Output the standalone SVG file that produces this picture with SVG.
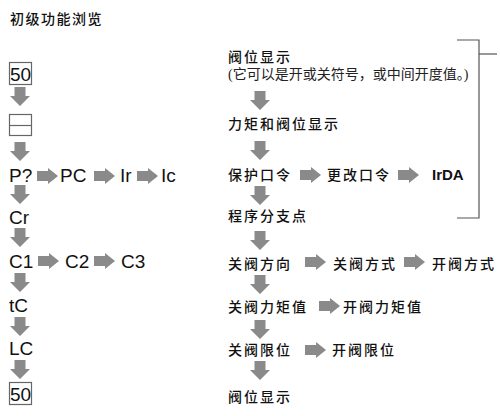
<svg xmlns="http://www.w3.org/2000/svg" width="500" height="416" viewBox="0 0 500 416">
<style>
.lat{font-family:"Liberation Sans",Arial,sans-serif;font-size:19px;fill:#111}
.cjk{font-family:"Noto Sans CJK SC","Noto Sans",sans-serif;font-size:14px;font-weight:500;letter-spacing:2px;fill:#111}
.ser{font-family:"Liberation Serif","Noto Sans CJK SC",serif;font-size:14px;fill:#222}
.bold{font-family:"Liberation Sans",Arial,sans-serif;font-size:15px;font-weight:bold;fill:#111}
.box{fill:#fff;stroke:#666;stroke-width:1.2}
.arr{fill:#8a8a8a}
.br{fill:none;stroke:#555;stroke-width:1.2}
</style>
<defs>
<path id="dn" class="arr" d="M-5.5,0 H5.5 V9 H10 L0,19 L-10,9 H-5.5 Z"/>
<path id="rt" class="arr" d="M0,-5 H11 V-8 L21,0 L11,8 V5 H0 Z"/>
</defs>
<g id="title"><text class="cjk" x="10" y="24" style="letter-spacing:1.5px">初级功能浏览</text></g>
<g id="bracket"><polyline class="br" points="457,40 479,40 479,218 457,218"/><line class="br" x1="479" y1="54" x2="497" y2="54"/></g>
<g id="left">
<g id="n50a"><rect class="box" x="9.5" y="62.5" width="22" height="22"/><text class="lat" x="10" y="81">50</text></g>
<g id="nblank"><rect class="box" x="9.5" y="114.5" width="22" height="21"/><line x1="9.5" y1="125.5" x2="31.5" y2="125.5" stroke="#666" stroke-width="1.2"/></g>
<g id="nP"><text class="lat" x="9" y="182">P?</text></g>
<g id="nPC"><text class="lat" x="60" y="182">PC</text></g>
<g id="nIr"><text class="lat" x="120" y="182">Ir</text></g>
<g id="nIc"><text class="lat" x="161" y="182">Ic</text></g>
<g id="nCr"><text class="lat" x="9" y="224">Cr</text></g>
<g id="nC1"><text class="lat" x="9" y="268">C1</text></g>
<g id="nC2"><text class="lat" x="65" y="268">C2</text></g>
<g id="nC3"><text class="lat" x="121" y="268">C3</text></g>
<g id="ntC"><text class="lat" x="9" y="312">tC</text></g>
<g id="nLC"><text class="lat" x="9" y="355">LC</text></g>
<g id="n50b"><rect class="box" x="9.5" y="382.5" width="22" height="22"/><text class="lat" x="10" y="401">50</text></g>
</g>
<g id="right">
<g id="r1"><text class="cjk" x="228" y="62">阀位显示</text><text class="ser" x="228" y="79">(它可以是开或关符号，或中间开度值。)</text></g>
<g id="r2"><text class="cjk" x="228" y="129">力矩和阀位显示</text></g>
<g id="r3"><text class="cjk" x="228" y="180">保护口令</text></g>
<g id="r3b"><text class="cjk" x="327" y="180">更改口令</text></g>
<g id="r3c"><text class="bold" x="432" y="180">IrDA</text></g>
<g id="r4"><text class="cjk" x="228" y="221">程序分支点</text></g>
<g id="r5"><text class="cjk" x="228" y="269">关阀方向</text></g>
<g id="r5b"><text class="cjk" x="333" y="269">关阀方式</text></g>
<g id="r5c"><text class="cjk" x="432" y="269">开阀方式</text></g>
<g id="r6"><text class="cjk" x="228" y="312">关阀力矩值</text></g>
<g id="r6b"><text class="cjk" x="343" y="312">开阀力矩值</text></g>
<g id="r7"><text class="cjk" x="228" y="355">关阀限位</text></g>
<g id="r7b"><text class="cjk" x="332" y="355">开阀限位</text></g>
<g id="r8"><text class="cjk" x="228" y="402">阀位显示</text></g>
</g>
<g id="connectors">
<use href="#dn" x="20" y="87"/>
<use href="#dn" x="20" y="142"/>
<use href="#dn" x="20" y="185"/>
<use href="#dn" x="20" y="228"/>
<use href="#dn" x="20" y="273"/>
<use href="#dn" x="20" y="317"/>
<use href="#dn" x="20" y="360"/>
<use href="#rt" x="37" y="176"/>
<use href="#rt" x="94" y="176"/>
<use href="#rt" x="137" y="176"/>
<use href="#rt" x="38" y="261"/>
<use href="#rt" x="94" y="261"/>
<use href="#dn" x="260" y="91"/>
<use href="#dn" x="260" y="141"/>
<use href="#dn" x="260" y="186"/>
<use href="#dn" x="260" y="231"/>
<use href="#dn" x="260" y="275"/>
<use href="#dn" x="260" y="320"/>
<use href="#dn" x="260" y="361"/>
<use href="#rt" x="300" y="175"/>
<use href="#rt" x="398" y="175"/>
<use href="#rt" x="305" y="262"/>
<use href="#rt" x="404" y="262"/>
<use href="#rt" x="319" y="306"/>
<use href="#rt" x="305" y="350"/>
</g>
</svg>
